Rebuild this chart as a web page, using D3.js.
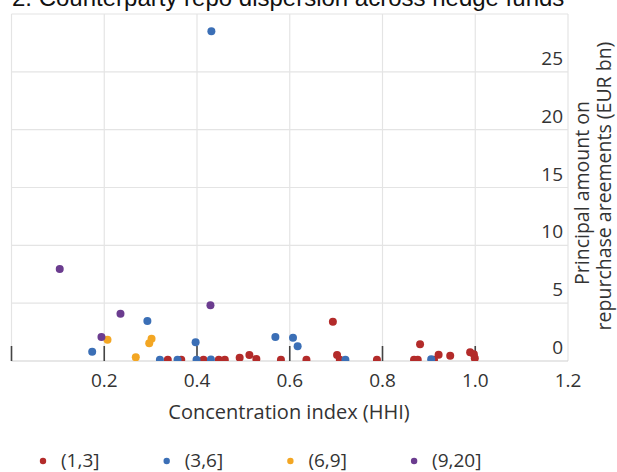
<!DOCTYPE html>
<html><head><meta charset="utf-8">
<script src="https://cdn.jsdelivr.net/npm/d3@7"></script>
<style>
html,body{margin:0;padding:0;background:#fff;overflow:hidden;}
text{font-family:"Open Sans","Noto Sans",sans-serif;fill:#333;}
</style></head>
<body><svg id="c" width="617" height="472"></svg>
<script>
const title = "2. Counterparty repo dispersion across hedge funds";
const xTicks = [0.2, 0.4, 0.6, 0.8, 1.0, 1.2];
const yTicks = [0, 5, 10, 15, 20, 25];
const seriesNames = ["(1,3]", "(3,6]", "(6,9]", "(9,20]"];
const seriesColors = ["#b32b2a", "#3b6fb6", "#f3a623", "#6b3c8f"];
const s13 = [[0.337,0.1],[0.366,0.1],[0.414,0.1],[0.447,0.1],[0.460,0.1],[0.492,0.29],[0.513,0.52],[0.528,0.17],[0.581,0.1],[0.636,0.1],[0.693,3.40],[0.702,0.52],[0.708,0.1],[0.788,0.1],[0.868,0.1],[0.876,0.1],[0.881,1.44],[0.911,0.1],[0.921,0.55],[0.946,0.46],[0.989,0.75],[0.997,0.58],[0.999,0.23]];
const s36 = [[0.174,0.80],[0.293,3.46],[0.32,0.1],[0.358,0.1],[0.397,1.62],[0.399,0.1],[0.430,0.12],[0.431,28.5],[0.569,2.07],[0.607,2.01],[0.617,1.27],[0.72,0.1],[0.905,0.15]];
const s69 = [[0.207,1.84],[0.268,0.32],[0.297,1.53],[0.302,1.93]];
const s920 = [[0.104,7.95],[0.194,2.07],[0.235,4.09],[0.429,4.81]];
const allSeries = [s13, s36, s69, s920];

const svg = d3.select("#c");
const L = 11.5, R = 568, T = 14, B = 361;
const x = d3.scaleLinear().domain([0, 1.2]).range([L, R]);
const y = d3.scaleLinear().domain([0, 30]).range([B, T]);

// title (clipped at the top, as in the reference)
svg.append("text").attr("x", 12).attr("y", 6).text(title)
  .style("font-family", "'Liberation Sans',Arial,sans-serif").style("font-size", "24px").style("fill", "#111");

// grid
const gx = d3.range(0, 1.21, 0.2);
const gy = d3.range(5, 31, 5);
svg.append("g").selectAll("line").data(gx).join("line")
  .attr("x1", d => x(d)).attr("x2", d => x(d)).attr("y1", T).attr("y2", B)
  .attr("stroke", "#e4e4e4").attr("stroke-width", 1.2);
svg.append("g").selectAll("line").data(gy).join("line")
  .attr("x1", L).attr("x2", R).attr("y1", d => y(d)).attr("y2", d => y(d))
  .attr("stroke", "#e4e4e4").attr("stroke-width", 1.2);
svg.append("line").attr("x1", L).attr("x2", R).attr("y1", B).attr("y2", B)
  .attr("stroke", "#cfcfcf").attr("stroke-width", 1.2);

svg.append("clipPath").attr("id", "pc").append("rect")
  .attr("x", L).attr("y", T).attr("width", R - L).attr("height", B - T);

// tick marks
svg.append("g").selectAll("line").data([0, 0.2, 0.4, 0.6, 0.8, 1.0]).join("line")
  .attr("x1", d => x(d)).attr("x2", d => x(d)).attr("y1", B - 15).attr("y2", B)
  .attr("stroke", "#444").attr("stroke-width", 1.6);

// points
const pg = svg.append("g").attr("clip-path", "url(#pc)");
allSeries.forEach((s, i) => {
  pg.append("g").selectAll("circle").data(s).join("circle")
    .attr("cx", d => x(d[0])).attr("cy", d => y(d[1])).attr("r", 4)
    .attr("fill", seriesColors[i]);
});

// x axis labels
svg.append("g").selectAll("text").data(xTicks).join("text")
  .attr("x", d => x(d)).attr("y", 387).attr("text-anchor", "middle")
  .style("font-size", "19px").text(d => d.toFixed(1));
svg.append("text").attr("x", 289).attr("y", 419).attr("text-anchor", "middle")
  .style("font-size", "20px").text("Concentration index (HHI)");

// y axis labels
svg.append("g").selectAll("text").data(yTicks).join("text")
  .attr("x", 563).attr("y", d => y(d) - 7).attr("text-anchor", "end")
  .style("font-size", "19px").text(d => d);

// y title
svg.append("text").attr("transform", "translate(589,193) rotate(-90)").attr("text-anchor", "middle")
  .style("font-size", "19.5px").text("Principal amount on");
svg.append("text").attr("transform", "translate(611,186) rotate(-90)").attr("text-anchor", "middle")
  .style("font-size", "19.5px").text("repurchase areements (EUR bn)");

// legend
const lg = svg.append("g");
seriesNames.forEach((n, i) => {
  const lx = 43 + i * 123.7;
  lg.append("circle").attr("cx", lx).attr("cy", 461).attr("r", 3.2).attr("fill", seriesColors[i]);
  lg.append("text").attr("x", lx + 18).attr("y", 467).style("font-size", "19px").text(n);
});
</script></body></html>
